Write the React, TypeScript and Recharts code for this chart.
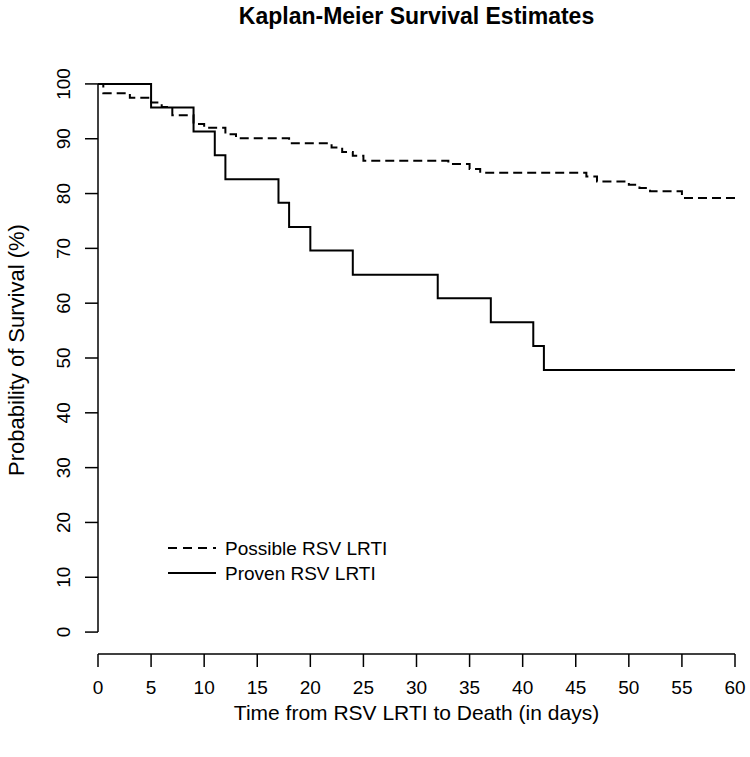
import { LineChart, Line, XAxis, YAxis, ReferenceLine, Label } from 'recharts';

// Kaplan-Meier step values (days, % surviving)
const provenDays = [0, 5, 9, 11, 12, 17, 18, 20, 24, 32, 37, 41, 42, 60];
const provenSurv = [100, 95.7, 91.3, 87.0, 82.6, 78.3, 73.9, 69.6, 65.2, 60.9, 56.5, 52.2, 47.8, 47.8];

const possibleDays = [0, 0.5, 3, 5, 6, 7, 9, 10, 12, 13, 18, 22, 23, 24, 25, 33, 35, 36, 46, 47, 50, 51, 52, 55, 60];
const possibleSurv = [100, 98.3, 97.5, 96.6, 95.8, 94.3, 92.7, 92.0, 90.8, 90.1, 89.2, 88.4, 87.6, 86.9, 86.0, 85.4, 84.5, 83.8, 83.1, 82.2, 81.6, 81.0, 80.4, 79.2, 79.2];

const xTicks = [0, 5, 10, 15, 20, 25, 30, 35, 40, 45, 50, 55, 60];
const yTicks = [0, 10, 20, 30, 40, 50, 60, 70, 80, 90, 100];

const seriesNames = ['Possible RSV LRTI', 'Proven RSV LRTI'];

const FONT = '"Liberation Sans", Arial, sans-serif';

const provenData = provenDays.map((t, i) => ({ t, s: provenSurv[i] }));
const possibleData = possibleDays.map((t, i) => ({ t, s: possibleSurv[i] }));

const YTick = (props: any) => {
    const { x, y, payload } = props;
    return (
        <text
            x={x}
            y={y}
            transform={`rotate(-90, ${x}, ${y})`}
            textAnchor="middle"
            fontSize={19}
            fontFamily={FONT}
            fill="#000"
        >
            {payload.value}
        </text>
    );
};

// legend drawn as an overlay so it does not take space from the plot
const KMLegend = () => (
    <svg width={260} height={60} style={{ position: 'absolute', left: 160, top: 535 }}>
        <line x1={8} y1={13} x2={56} y2={13} stroke="#000" strokeWidth={1.8} strokeDasharray="9 6" />
        <text x={65} y={20} fontSize={19} fontFamily={FONT} fill="#000">{seriesNames[0]}</text>
        <line x1={8} y1={38} x2={56} y2={38} stroke="#000" strokeWidth={1.8} />
        <text x={65} y={45} fontSize={19} fontFamily={FONT} fill="#000">{seriesNames[1]}</text>
    </svg>
);

export default function App() {
    return (
        <div style={{ position: 'absolute', left: 0, top: 0, width: 750, height: 757, background: '#fff' }}>
            <div
                style={{
                    position: 'absolute',
                    left: 0,
                    width: 833,
                    top: 3,
                    textAlign: 'center',
                    fontFamily: FONT,
                    fontWeight: 'bold',
                    fontSize: 23,
                    color: '#000',
                }}
            >
                Kaplan-Meier Survival Estimates
            </div>
            <LineChart width={750} height={757} margin={{ top: 62, right: 15, bottom: 0, left: 0 }}>
                <XAxis
                    dataKey="t"
                    type="number"
                    domain={[0, 60]}
                    ticks={xTicks}
                    interval={0}
                    height={103}
                    allowDataOverflow
                    tickSize={13}
                    tickMargin={14}
                    stroke="#000"
                    strokeWidth={1.5}
                    tick={{ fontSize: 19, fontFamily: FONT, fill: '#000' }}
                >
                    <Label
                        value="Time from RSV LRTI to Death (in days)"
                        position="insideBottom"
                        offset={37}
                        style={{ fontSize: 21, fontFamily: FONT, fill: '#000' }}
                    />
                </XAxis>
                <YAxis
                    type="number"
                    domain={[-4, 104]}
                    ticks={yTicks}
                    interval={0}
                    width={98}
                    axisLine={false}
                    tickSize={13}
                    tickMargin={15}
                    stroke="#000"
                    strokeWidth={1.5}
                    tick={<YTick />}
                >
                    <Label
                        content={() => (
                            <text
                                x={24}
                                y={350}
                                transform="rotate(-90, 24, 350)"
                                textAnchor="middle"
                                fontSize={22}
                                fontFamily={FONT}
                                fill="#000"
                            >
                                Probability of Survival (%)
                            </text>
                        )}
                    />
                </YAxis>
                <ReferenceLine
                    segment={[{ x: 0, y: 0 }, { x: 0, y: 100 }]}
                    stroke="#000"
                    strokeWidth={1.5}
                />
                <Line
                    data={possibleData}
                    dataKey="s"
                    name={seriesNames[0]}
                    type="stepAfter"
                    stroke="#000"
                    strokeWidth={2}
                    strokeDasharray="9 5"
                    dot={false}
                    isAnimationActive={false}
                />
                <Line
                    data={provenData}
                    dataKey="s"
                    name={seriesNames[1]}
                    type="stepAfter"
                    stroke="#000"
                    strokeWidth={2}
                    dot={false}
                    isAnimationActive={false}
                />
            </LineChart>
            <KMLegend />
        </div>
    );
}
